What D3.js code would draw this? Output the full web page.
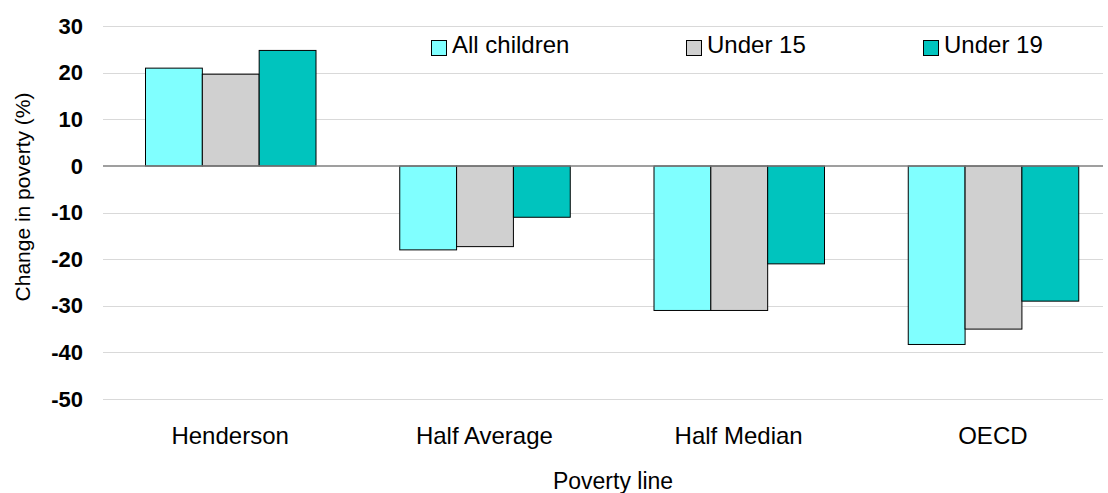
<!DOCTYPE html>
<html>
<head>
<meta charset="utf-8">
<script src="https://cdn.jsdelivr.net/npm/d3@7"></script>
<style>
  html, body { margin: 0; padding: 0; background: #fff; }
  svg { display: block; font-family: "Liberation Sans", Arial, sans-serif; }
</style>
</head>
<body>
<svg id="chart" width="1108" height="493"></svg>
<script>
const categories = ["Henderson", "Half Average", "Half Median", "OECD"];
const seriesNames = ["All children", "Under 15", "Under 19"];
const allChildren = [21, -18, -31, -38.3];
const under15 = [19.7, -17.3, -31, -35];
const under19 = [24.8, -11, -21, -29];
const seriesColors = ["#80FFFF", "#D0D0D0", "#00C4BE"];
const yTicks = [30, 20, 10, 0, -10, -20, -30, -40, -50];
const yTitle = "Change in poverty (%)";
const xTitle = "Poverty line";

const seriesValues = [allChildren, under15, under19];

const svg = d3.select("#chart");
const plotLeft = 103, plotRight = 1103;

const x0 = d3.scaleBand().domain(categories).range([103, 1120]).padding(0);
const x1 = d3.scaleBand().domain(seriesNames).range([42, 212.5]).padding(0);
const y = d3.scaleLinear().domain([-50, 30]).range([399, 26.2]);

// gridlines
svg.append("g").selectAll("line").data(yTicks.filter(d => d !== 0)).join("line")
  .attr("x1", plotLeft).attr("x2", plotRight)
  .attr("y1", d => Math.round(y(d)) + 0.5).attr("y2", d => Math.round(y(d)) + 0.5)
  .attr("stroke", "#d9d9d9").attr("stroke-width", 1.2);

// y tick labels
const yAxis = d3.axisLeft(y).tickValues(yTicks).tickSize(0).tickPadding(0)
  .tickFormat(d => String(d));
const yg = svg.append("g").attr("transform", "translate(83,0)").call(yAxis);
yg.select(".domain").remove();
yg.selectAll("text").attr("font-size", 22).attr("font-weight", "bold")
  .attr("fill", "#000").attr("font-family", "'Liberation Sans', Arial, sans-serif");

// bars
const groups = svg.append("g").selectAll("g").data(categories).join("g")
  .attr("transform", d => `translate(${x0(d)},0)`);
groups.selectAll("rect")
  .data((c, i) => seriesNames.map((s, j) => ({ s, j, v: seriesValues[j][i] })))
  .join("rect")
  .attr("x", d => x1(d.s) + 0.5)
  .attr("width", x1.bandwidth())
  .attr("y", d => Math.min(y(d.v), y(0)))
  .attr("height", d => Math.abs(y(d.v) - y(0)))
  .attr("fill", d => seriesColors[d.j])
  .attr("stroke", "#000").attr("stroke-width", 1);

// zero line
svg.append("line")
  .attr("x1", plotLeft).attr("x2", plotRight)
  .attr("y1", y(0)).attr("y2", y(0))
  .attr("stroke", "#7f7f7f").attr("stroke-width", 1.5);

// x category labels
const xAxis = d3.axisBottom(x0).tickSize(0).tickPadding(0);
const xg = svg.append("g").attr("transform", "translate(0,444)").call(xAxis);
xg.select(".domain").remove();
xg.selectAll("text").attr("font-size", 24).attr("fill", "#000")
  .attr("dy", 0).attr("font-family", "'Liberation Sans', Arial, sans-serif");

// axis titles
svg.append("text").attr("x", 613).attr("y", 489).attr("text-anchor", "middle")
  .attr("font-size", 23).text(xTitle);
svg.append("text").attr("transform", "translate(30,197) rotate(-90)")
  .attr("text-anchor", "middle").attr("font-size", 21).text(yTitle);

// legend
const legendX = [431, 686, 923];
const lg = svg.append("g").selectAll("g").data(seriesNames).join("g")
  .attr("transform", (d, i) => `translate(${legendX[i]},0)`);
lg.append("rect").attr("x", 0.5).attr("y", 40.5).attr("width", 15).attr("height", 15)
  .attr("fill", (d, i) => seriesColors[i]).attr("stroke", "#000").attr("stroke-width", 1);
lg.append("text").attr("x", 21).attr("y", 53).attr("font-size", 24).text(d => d);
</script>
</body>
</html>
